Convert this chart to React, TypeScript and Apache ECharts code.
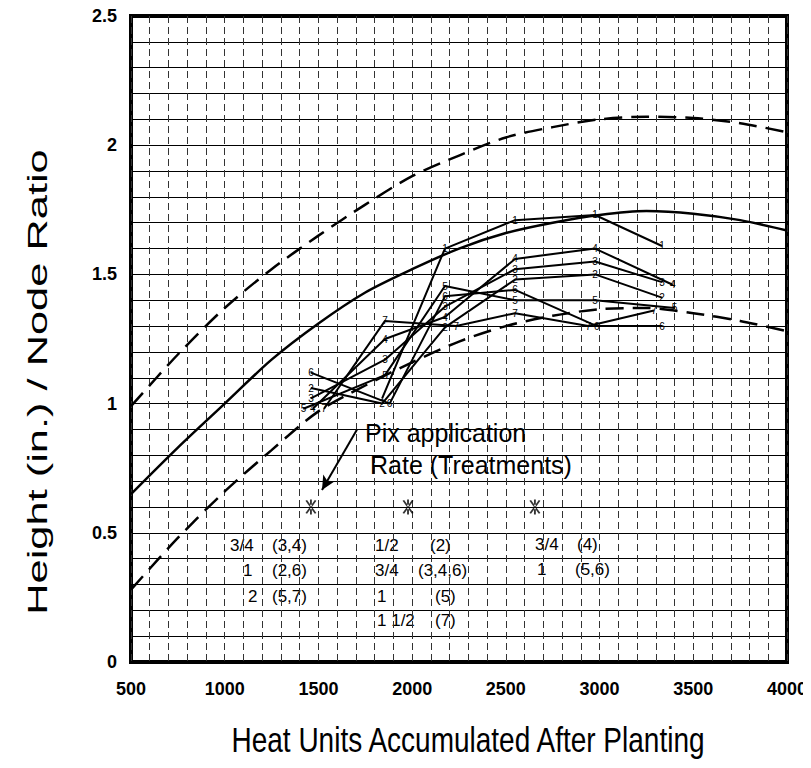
import React, { useEffect, useRef } from "react";
import * as echarts from "echarts";

// ---- axis ranges / ticks ----
const xRange = [500, 4000];
const yRange = [0, 2.5];
const xMajorLabels = [500, 1000, 1500, 2000, 2500, 3000, 3500, 4000];
const yMajorLabels = [0, 0.5, 1, 1.5, 2, 2.5];

// ---- envelope curves ----
const upperDashed = [[500, 0.99], [750, 1.19], [1000, 1.37], [1250, 1.52], [1500, 1.65], [1750, 1.77], [2000, 1.88], [2250, 1.96], [2500, 2.03], [2750, 2.07], [3000, 2.1], [3250, 2.11], [3500, 2.105], [3750, 2.085], [4000, 2.05]];
const middleSolid = [[500, 0.65], [750, 0.83], [1000, 1.0], [1250, 1.17], [1500, 1.31], [1750, 1.43], [2000, 1.52], [2250, 1.6], [2500, 1.66], [2750, 1.7], [3000, 1.73], [3250, 1.745], [3500, 1.735], [3750, 1.71], [4000, 1.67]];
const lowerDashed = [[500, 0.28], [750, 0.48], [1000, 0.66], [1250, 0.82], [1500, 0.97], [1750, 1.07], [2000, 1.16], [2250, 1.24], [2500, 1.3], [2750, 1.34], [3000, 1.365], [3250, 1.37], [3500, 1.35], [3750, 1.32], [4000, 1.28]];

// ---- treatment observations ----
const treatment1 = [[1840, 1.02], [2175, 1.6], [2549, 1.71], [2976, 1.73], [3333, 1.61]];
const treatment2 = [[1460, 1.06], [1840, 1.0], [2175, 1.295], [2549, 1.48], [2976, 1.5], [3333, 1.41]];
const treatment3 = [[1460, 1.02], [1855, 1.17], [2175, 1.375], [2549, 1.52], [2976, 1.55], [3333, 1.47]];
const treatment4 = [[1470, 0.98], [1855, 1.25], [2175, 1.335], [2549, 1.56], [2976, 1.6], [3390, 1.46]];
const treatment5 = [[1420, 0.98], [1855, 1.11], [2175, 1.455], [2549, 1.4], [2976, 1.4], [3400, 1.37]];
const treatment6 = [[1460, 1.12], [1880, 1.0], [2175, 1.415], [2549, 1.44], [2985, 1.3], [3333, 1.3]];
const treatment7 = [[1530, 0.98], [1855, 1.32], [2235, 1.3], [2549, 1.35], [2940, 1.3], [3290, 1.36]];
const treatments = [treatment1, treatment2, treatment3, treatment4, treatment5, treatment6, treatment7];
// points whose number is not printed in the figure: [treatment index, point index]
const unlabeledPoints = [[0, 0]];

// ---- Pix application markers ----
const pixMarkers = [[1460, 0.6], [1978, 0.6], [2655, 0.6]];
const arrowFrom = [1706, 0.9];
const arrowTo = [1519, 0.666];

// rate table rows: [rate, treatments]
const rateTable = [
  ["3/4", "(3,4)"], ["1", "(2,6)"], ["2", "(5,7)"],
  ["1/2", "(2)"], ["3/4", "(3,4,6)"], ["1", "(5)"], ["1 1/2", "(7)"],
  ["3/4", "(4)"], ["1", "(5,6)"],
];

const FONT = "'Liberation Sans', Arial, Helvetica, sans-serif";

const asterisk =
  "path://M-0.6,-6L0.6,-6L0.6,6L-0.6,6Z M2.48,5.5L3.52,4.9L-2.48,-5.5L-3.52,-4.9Z M-3.52,4.9L-2.48,5.5L3.52,-4.9L2.48,-5.5Z";

export default function App() {
  const ref = useRef<HTMLDivElement>(null);
  useEffect(() => {
    if (!ref.current) return;
    const chart = echarts.init(ref.current, undefined, { renderer: "svg" });

    const tableLayout = [
      { lx: 230, rx: 272, y: 545 }, { lx: 243, rx: 272, y: 570 }, { lx: 248, rx: 272, y: 596 },
      { lx: 375, rx: 430, y: 545 }, { lx: 375, rx: 418, y: 570 }, { lx: 377, rx: 435, y: 596 }, { lx: 377, rx: 435, y: 620 },
      { lx: 535, rx: 577, y: 544 }, { lx: 537, rx: 575, y: 569 },
    ];
    const tableGraphics: any[] = [];
    rateTable.forEach((row, i) => {
      const p = tableLayout[i];
      tableGraphics.push({
        type: "text", x: p.lx, y: p.y,
        style: { text: row[0], fontSize: 17, fontFamily: FONT, fill: "#000", align: "left", verticalAlign: "middle" },
      });
      tableGraphics.push({
        type: "text", x: p.rx, y: p.y,
        style: { text: row[1], fontSize: 17, fontFamily: FONT, fill: "#000", align: "left", verticalAlign: "middle" },
      });
    });

    const treatmentSeries = treatments.map((d, i) => ({
      type: "line",
      name: "T" + (i + 1),
      data: d.map((p, j) => {
        const hidden = unlabeledPoints.some((u) => u[0] === i && u[1] === j);
        return hidden ? { value: p, label: { show: false } } : { value: p };
      }),
      symbol: "circle",
      symbolSize: 1,
      itemStyle: { color: "#000" },
      lineStyle: { color: "#000", width: 2 },
      label: {
        show: true,
        position: "inside",
        formatter: String(i + 1),
        fontSize: 10,
        fontFamily: FONT,
        color: "#000",
      },
      z: 4,
    }));

    chart.setOption({
      animation: false,
      backgroundColor: "#fff",
      grid: {
        left: 131, top: 16, right: 24, bottom: 106,
        show: true, borderColor: "#000", borderWidth: 4, backgroundColor: "#fff",
        containLabel: false, outerBoundsMode: "none",
      },
      xAxis: {
        type: "value", min: xRange[0], max: xRange[1], interval: 100,
        axisLine: { show: false }, axisTick: { show: false },
        axisLabel: {
          margin: 18, fontSize: 18, fontWeight: "bold", fontFamily: FONT, color: "#000",
          formatter: (v: number) => (xMajorLabels.indexOf(Math.round(v)) >= 0 ? String(Math.round(v)) : ""),
          showMinLabel: true, showMaxLabel: true,
        },
        splitLine: { show: true, lineStyle: { color: "#333", width: 1, type: [7, 4] } },
      },
      yAxis: {
        type: "value", min: yRange[0], max: yRange[1], interval: 0.1,
        axisLine: { show: false }, axisTick: { show: false },
        axisLabel: {
          margin: 14, fontSize: 18, fontWeight: "bold", fontFamily: FONT, color: "#000",
          formatter: (v: number) => {
            const r = Math.round(v * 10) / 10;
            return yMajorLabels.indexOf(r) >= 0 ? String(r) : "";
          },
          showMinLabel: true, showMaxLabel: true,
        },
        splitLine: { show: true, lineStyle: { color: "#000", width: 1.2 } },
      },
      series: [
        {
          type: "line", data: upperDashed, smooth: 0.3, symbol: "none",
          lineStyle: { color: "#000", width: 2.5, type: [18, 9] }, z: 3,
        },
        {
          type: "line", data: middleSolid, smooth: 0.3, symbol: "none",
          lineStyle: { color: "#000", width: 2.5 }, z: 3,
        },
        {
          type: "line", data: lowerDashed, smooth: 0.3, symbol: "none",
          lineStyle: { color: "#000", width: 2.5, type: [18, 9] }, z: 3,
        },
        ...treatmentSeries,
        {
          type: "scatter", data: pixMarkers, symbol: asterisk, symbolSize: [11, 15],
          itemStyle: { color: "#000" }, z: 5,
          markLine: {
            silent: true, symbol: ["none", "arrow"], symbolSize: [10, 14],
            label: { show: false },
            lineStyle: { color: "#000", width: 2, type: "solid" },
            data: [[{ coord: arrowFrom }, { coord: arrowTo }]],
          },
        },
      ],
      graphic: [
        {
          type: "text", x: 365, y: 433,
          style: { text: "Pix application", fontSize: 25, fontFamily: FONT, fill: "#000", align: "left", verticalAlign: "middle" },
          z: 10,
        },
        {
          type: "text", x: 370, y: 465,
          style: { text: "Rate (Treatments)", fontSize: 25, fontFamily: FONT, fill: "#000", align: "left", verticalAlign: "middle" },
          z: 10,
        },
        ...tableGraphics,
        {
          type: "text", x: 468, y: 740, scaleY: 1.25,
          style: { text: "Heat Units Accumulated After Planting", fontSize: 28, fontFamily: FONT, fill: "#000", align: "center", verticalAlign: "middle" },
        },
        {
          type: "text", x: 37, y: 382, rotation: Math.PI / 2, scaleX: 1.55,
          style: { text: "Height (in.) / Node Ratio", fontSize: 28, fontFamily: FONT, fill: "#000", align: "center", verticalAlign: "middle" },
        },
      ],
    });
    return () => chart.dispose();
  }, []);
  return <div ref={ref} style={{ width: 811, height: 768, marginLeft: -8, marginTop: -8 }} />;
}
